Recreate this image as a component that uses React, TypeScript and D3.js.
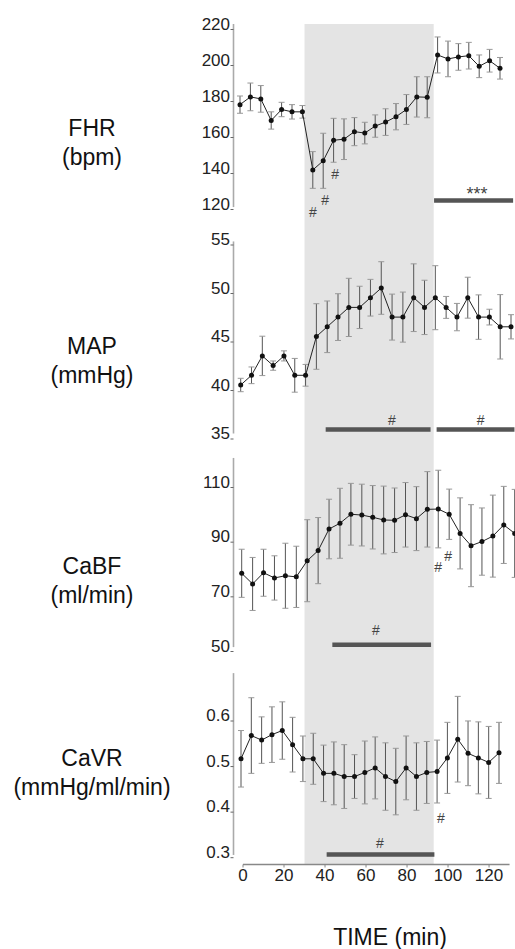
import React from 'react';
import * as d3 from 'd3';

// sampling times (min)
const TIME = [0, 5, 10, 15, 20, 25, 30, 35, 40, 45, 50, 55, 60, 65, 70, 75, 80, 85, 90, 95, 100, 105, 110, 115, 120, 125];
const TIME_TICKS = [0, 20, 40, 60, 80, 100, 120];

// FHR (bpm)
const FHR_MEAN = [175.2, 179.5, 178.4, 166.4, 172.5, 171.2, 171.2, 138.9, 144, 155.4, 156, 160.2, 159.4, 163.3, 165.5, 168.5, 172.5, 179.5, 179.3, 202.8, 200.6, 201.7, 202.4, 196.5, 199.6, 195.4];
const FHR_SEM = [4.8, 7.7, 7.4, 4.8, 4.0, 4.0, 3.5, 10.2, 15.3, 12.2, 11.3, 7.8, 6.0, 6.2, 7.4, 7.3, 8.3, 11.2, 11.4, 10.0, 9.9, 7.4, 7.4, 6.3, 6.3, 6.0];
const FHR_TICKS = [120, 140, 160, 180, 200, 220];

// MAP (mmHg)
const MAP_MEAN = [40, 41, 43, 42, 43, 41, 41, 45, 46, 47, 48, 48, 49, 50, 47, 47, 49, 48, 49, 48, 47, 49, 47, 47, 46, 46];
const MAP_SEM = [0.69, 0.86, 2.03, 0.48, 0.52, 1.74, 1.12, 3.38, 2.66, 2.41, 3.0, 2.18, 1.89, 2.71, 2.37, 2.58, 3.49, 2.8, 3.3, 1.13, 1.41, 2.11, 2.29, 0.81, 3.32, 1.25];
const MAP_TICKS = [35, 40, 45, 50, 55];

// CaBF (ml/min)
const CABF_MEAN = [76.6, 72.7, 76.8, 74.9, 75.7, 75.3, 81.2, 84.9, 92.8, 94.9, 98.2, 97.9, 97.1, 96.1, 96, 98, 96.6, 100, 100.1, 98.2, 91.2, 86.7, 88.2, 90.2, 94.3, 91.2];
const CABF_SEM = [8.8, 9.7, 8.6, 8.1, 11.9, 11.2, 15.0, 12.1, 10.9, 12.8, 11.3, 11.3, 11.6, 12.4, 11.8, 11.8, 11.7, 13.8, 14.2, 9.2, 13.0, 15.0, 12.3, 15.0, 14.1, 16.1];
const CABF_TICKS = [50, 70, 90, 110];

// CaVR (mmHg/ml/min)
const CAVR_MEAN = [0.505, 0.556, 0.546, 0.558, 0.567, 0.536, 0.505, 0.505, 0.473, 0.473, 0.466, 0.466, 0.475, 0.485, 0.466, 0.455, 0.485, 0.466, 0.475, 0.477, 0.507, 0.548, 0.517, 0.507, 0.497, 0.518];
const CAVR_SEM = [0.062, 0.083, 0.051, 0.061, 0.063, 0.060, 0.050, 0.056, 0.062, 0.069, 0.070, 0.048, 0.069, 0.068, 0.074, 0.073, 0.070, 0.074, 0.068, 0.069, 0.078, 0.094, 0.071, 0.079, 0.079, 0.067];
const CAVR_TICKS = [0.3, 0.4, 0.5, 0.6];

// treatment period (min)
const SHADE = [30, 93];

// significance bars [from, to, level] and marks {t, v, text}
const FHR_BARS = [[93.3, 131.3, 121.9]];
const FHR_NOTES = [{ t: 35.1, v: 115.6, text: '#' }, { t: 40.9, v: 122.2, text: '#' }, { t: 45.7, v: 136.7, text: '#' }, { t: 113.9, v: 125.6, text: '***' }];
const MAP_BARS = [[39.3, 87.8, 35.4], [90.6, 126.6, 35.4]];
const MAP_NOTES = [{ t: 69.9, v: 36.4, text: '#' }, { t: 111.0, v: 36.4, text: '#' }];
const CABF_BARS = [[41.5, 86.7, 50.5]];
const CABF_NOTES = [{ t: 61.5, v: 55.8, text: '#' }, { t: 89.9, v: 78.9, text: '#' }, { t: 94.5, v: 82.9, text: '#' }];
const CAVR_BARS = [[41.5, 93.7, 0.295]];
const CAVR_NOTES = [{ t: 67.3, v: 0.321, text: '#' }, { t: 96.8, v: 0.374, text: '#' }];

const W = 515, H = 949;
const FONT = '"Liberation Sans", Arial, sans-serif';
const AXIS_X = 233.5;

const panels = [
  { title: 'FHR', unit: '(bpm)', labelY: 128, mean: FHR_MEAN, sem: FHR_SEM, ticks: FHR_TICKS, fmt: d3.format('d'),
    yDomain: [120, 220], yRange: [204, 24], xRange: [240, 500], span: [118.3, 220], bars: FHR_BARS, notes: FHR_NOTES },
  { title: 'MAP', unit: '(mmHg)', labelY: 346, mean: MAP_MEAN, sem: MAP_SEM, ticks: MAP_TICKS, fmt: d3.format('d'),
    yDomain: [35, 55], yRange: [433.5, 239.5], xRange: [240.7, 511], span: [35, 54.8], bars: MAP_BARS, notes: MAP_NOTES },
  { title: 'CaBF', unit: '(ml/min)', labelY: 566, mean: CABF_MEAN, sem: CABF_SEM, ticks: CABF_TICKS, fmt: d3.format('d'),
    yDomain: [50, 110], yRange: [646, 482], xRange: [241.7, 514.7], span: [49.6, 118.8], bars: CABF_BARS, notes: CABF_NOTES },
  { title: 'CaVR', unit: '(mmHg/ml/min)', labelY: 758, mean: CAVR_MEAN, sem: CAVR_SEM, ticks: CAVR_TICKS, fmt: d3.format('.1f'),
    yDomain: [0.3, 0.6], yRange: [852.2, 715.5], xRange: [241, 499], span: [0.294, 0.693], bars: CAVR_BARS, notes: CAVR_NOTES },
];

function Panel({ p }: { p: any }) {
  const x = d3.scaleLinear().domain([0, 125]).range(p.xRange);
  const y = d3.scaleLinear().domain(p.yDomain).range(p.yRange);
  const line = d3.line<number>().x((_, i) => x(TIME[i])).y(d => y(d));

  return (
    <g>
      <text x={92} y={p.labelY} textAnchor="middle" dominantBaseline="central" fontSize={23} fill="#111">{p.title}</text>
      <text x={92} y={p.labelY + 29} textAnchor="middle" dominantBaseline="central" fontSize={23} fill="#111">{p.unit}</text>

      <line x1={AXIS_X} x2={AXIS_X} y1={y(p.span[0])} y2={y(p.span[1])} stroke="#aaa" strokeWidth={1.6} />
      {p.ticks.map((t: number) => (
        <g key={t}>
          <text x={230} y={y(t)} textAnchor="end" dominantBaseline="central" fontSize={17} fill="#222">{p.fmt(t)}</text>
          <line x1={230.5} x2={AXIS_X} y1={y(t) + 5.5} y2={y(t) + 5.5} stroke="#666" strokeWidth={1} />
        </g>
      ))}

      {p.bars.map((b: number[], i: number) => (
        <line key={'b' + i} x1={x(b[0])} x2={x(b[1])} y1={y(b[2])} y2={y(b[2])} stroke="#555" strokeWidth={4.5} />
      ))}
      {p.notes.map((n: any, i: number) => (
        <text key={'n' + i} x={x(n.t)} y={y(n.v)} textAnchor="middle" dominantBaseline="central"
          fontSize={n.text === '#' ? 14 : 18} fill="#444">{n.text}</text>
      ))}

      {p.mean.map((m: number, i: number) => {
        const cx = x(TIME[i]);
        const top = y(m + p.sem[i]), bot = y(m - p.sem[i]);
        return (
          <g key={'e' + i}>
            <line x1={cx} x2={cx} y1={top} y2={bot} stroke="#555" strokeWidth={1} />
            <line x1={cx - 3} x2={cx + 3} y1={top} y2={top} stroke="#999" strokeWidth={1} />
            <line x1={cx - 3} x2={cx + 3} y1={bot} y2={bot} stroke="#999" strokeWidth={1} />
          </g>
        );
      })}
      <path d={line(p.mean) || ''} fill="none" stroke="#222" strokeWidth={1} />
      {p.mean.map((m: number, i: number) => (
        <circle key={'c' + i} cx={x(TIME[i])} cy={y(m)} r={2.5} fill="#111" />
      ))}
    </g>
  );
}

export default function App() {
  const xAxis = d3.scaleLinear().domain([0, 125]).range([243, 499.3]);
  const axisY = 864.5;

  return (
    <svg width={W} height={H} style={{ position: 'absolute', left: 0, top: 0, background: '#fff' }} fontFamily={FONT}>
      <rect x={0} y={0} width={W} height={H} fill="#fff" />
      <rect x={xAxis(SHADE[0])} y={24} width={xAxis(SHADE[1]) - xAxis(SHADE[0])} height={axisY - 24} fill="#e4e4e4" />

      {panels.map(p => <Panel key={p.title} p={p} />)}

      <line x1={xAxis(0)} x2={xAxis(130)} y1={axisY} y2={axisY} stroke="#888" strokeWidth={1.5} />
      {TIME_TICKS.map(t => (
        <g key={t}>
          <line x1={xAxis(t)} x2={xAxis(t)} y1={axisY} y2={axisY + 3} stroke="#888" strokeWidth={1} />
          <text x={xAxis(t)} y={875} textAnchor="middle" dominantBaseline="central" fontSize={17} fill="#222">{t}</text>
        </g>
      ))}
      <text x={390} y={937} textAnchor="middle" dominantBaseline="central" fontSize={23} fill="#111">TIME (min)</text>
    </svg>
  );
}
